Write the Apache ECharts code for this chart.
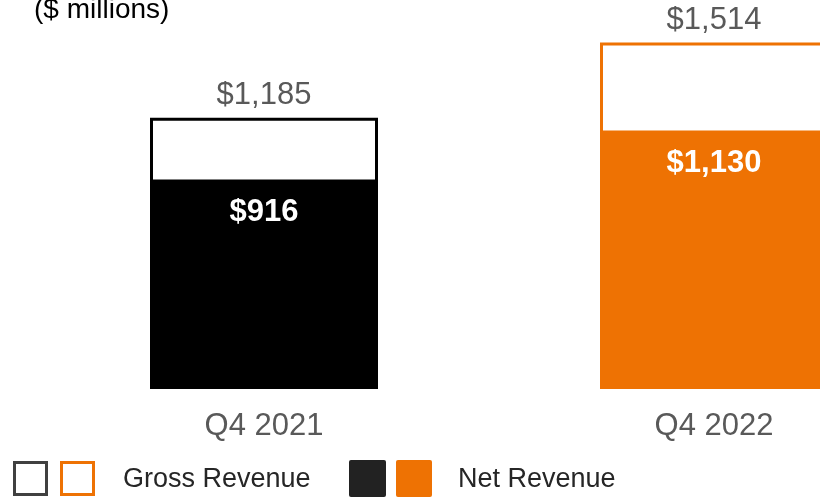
<!DOCTYPE html>
<html>
<head>
<meta charset="utf-8">
<script src="https://cdn.jsdelivr.net/npm/echarts@6/dist/echarts.min.js"></script>
<style>
  html, body { margin: 0; padding: 0; background: #fff; overflow: hidden; }
  #chart { width: 939px; height: 497px; }
</style>
</head>
<body>
<div id="chart"></div>
<script>
// quarters and revenue ($ millions)
var quarters = ['Q4 2021', 'Q4 2022'];
var grossRevenue = [1185, 1514];
var netRevenue = [916, 1130];
var barColors = ['#000000', '#EE7203'];

var font = 'Liberation Sans, Arial, sans-serif';
var money = function (v) { return '$' + v.toLocaleString('en-US'); };

// chart is wider than the window so the second bar runs off the right edge, as in the source
var chart = echarts.init(document.getElementById('chart'));
var option = {
    animation: false,
    grid: { left: 39, right: 0, top: 0, bottom: 108 },
    xAxis: {
        type: 'category',
        data: quarters,
        axisLine: { show: false },
        axisTick: { show: false },
        axisLabel: { color: '#595959', fontSize: 31, fontFamily: font, margin: 22 }
    },
    yAxis: {
        type: 'value',
        min: 0,
        max: 1700,
        show: false,
        splitLine: { show: false }
    },
    series: [
        {
            name: 'Gross Revenue',
            type: 'bar',
            barWidth: 228,
            barGap: '-100%',
            data: grossRevenue.map(function (v, i) {
                return {
                    value: v,
                    itemStyle: { color: '#ffffff', borderColor: barColors[i], borderWidth: 3 }
                };
            }),
            label: {
                show: true,
                position: 'top',
                distance: 7,
                color: '#595959',
                fontSize: 31,
                fontFamily: font,
                formatter: function (p) { return money(p.value); }
            }
        },
        {
            name: 'Net Revenue',
            type: 'bar',
            barWidth: 228,
            data: netRevenue.map(function (v, i) {
                return { value: v, itemStyle: { color: barColors[i] } };
            }),
            label: {
                show: true,
                position: 'insideTop',
                distance: 18,
                color: '#ffffff',
                fontWeight: 'bold',
                fontSize: 31,
                fontFamily: font,
                formatter: function (p) { return money(p.value); }
            }
        }
    ],
    graphic: [
        { type: 'text', left: 34, top: -4, style: { text: '($ millions)', fontSize: 28, fontFamily: font, fill: '#000' } },
        // legend swatches
        { type: 'rect', shape: { x: 14.5, y: 462.5, width: 32, height: 32 }, style: { fill: '#fff', stroke: '#404040', lineWidth: 3 } },
        { type: 'rect', shape: { x: 61.5, y: 462.5, width: 32, height: 32 }, style: { fill: '#fff', stroke: '#EE7203', lineWidth: 3 } },
        { type: 'text', left: 123, top: 466, style: { text: 'Gross Revenue', fontSize: 27, fontFamily: font, fill: '#262626' } },
        { type: 'rect', shape: { x: 349, y: 460, width: 37, height: 37, r: 2 }, style: { fill: '#222222' } },
        { type: 'rect', shape: { x: 396, y: 460, width: 36, height: 37, r: 2 }, style: { fill: '#EE7203' } },
        { type: 'text', left: 458, top: 466, style: { text: 'Net Revenue', fontSize: 27, fontFamily: font, fill: '#262626' } }
    ]
};
chart.setOption(option);
</script>
</body>
</html>
